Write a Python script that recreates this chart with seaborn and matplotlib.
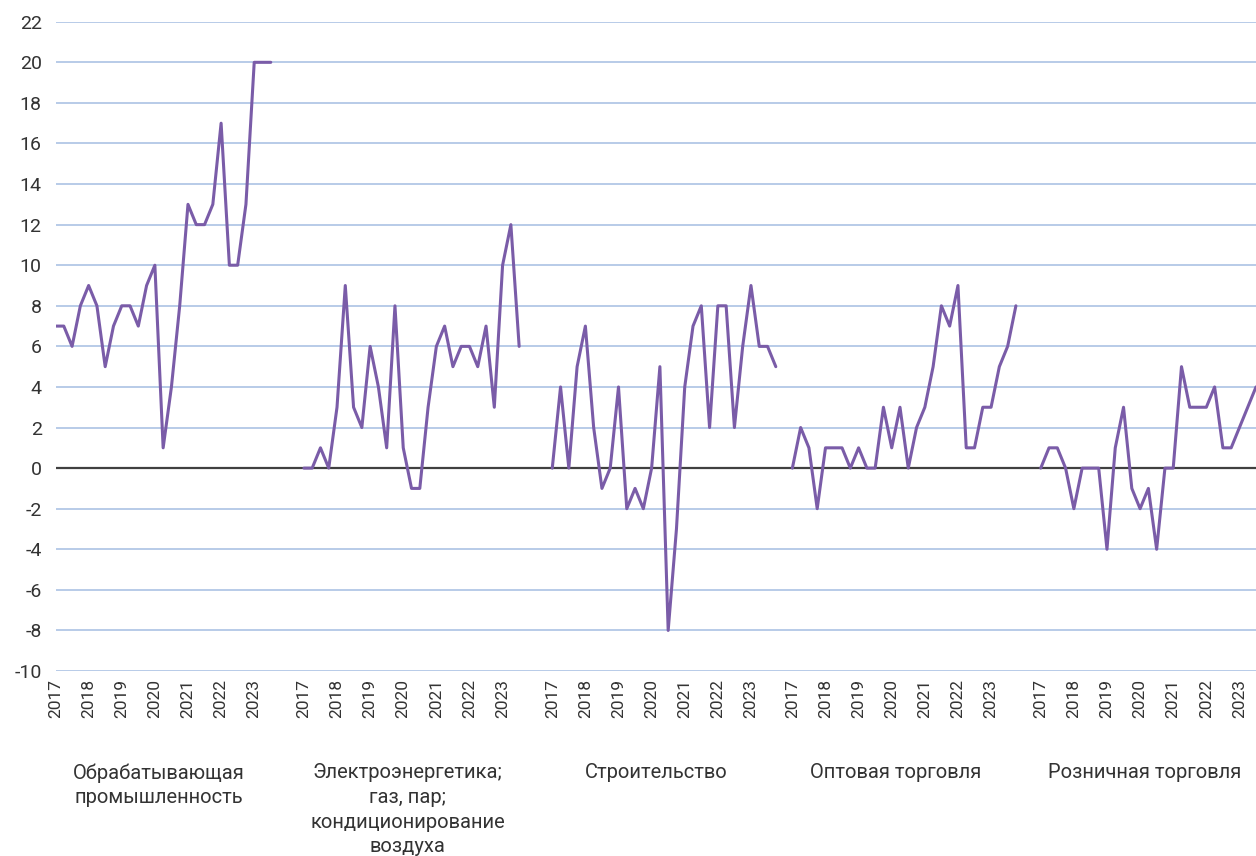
import numpy as np
import pandas as pd
import seaborn as sns
import matplotlib.pyplot as plt
import matplotlib.transforms as mtransforms

# sectors and quarterly values (2017Q1 onward)
sectors = [
    "Обрабатывающая\nпромышленность",
    "Электроэнергетика;\nгаз, пар;\nкондиционирование\nвоздуха",
    "Строительство",
    "Оптовая торговля",
    "Розничная торговля",
]
manufacturing = [7, 7, 6, 8, 9, 8, 5, 7, 8, 8, 7, 9, 10, 1, 4, 8, 13, 12, 12, 13, 17, 10, 10, 13, 20, 20, 20]
energy = [0, 0, 1, 0, 3, 9, 3, 2, 6, 4, 1, 8, 1, -1, -1, 3, 6, 7, 5, 6, 6, 5, 7, 3, 10, 12, 6]
construction = [0, 4, 0, 5, 7, 2, -1, 0, 4, -2, -1, -2, 0, 5, -8, -3, 4, 7, 8, 2, 8, 8, 2, 6, 9, 6, 6, 5]
wholesale = [0, 2, 1, -2, 1, 1, 1, 0, 1, 0, 0, 3, 1, 3, 0, 2, 3, 5, 8, 7, 9, 1, 1, 3, 3, 5, 6, 8]
retail = [0, 1, 1, 0, -2, 0, 0, 0, -4, 1, 3, -1, -2, -1, -4, 0, 0, 5, 3, 3, 3, 4, 1, 1, 2, 3, 4]
years = [2017, 2018, 2019, 2020, 2021, 2022, 2023]

series = [manufacturing, energy, construction, wholesale, retail]
# first category slot of each sector block on the shared axis
block_start = [0, 30, 60, 89, 119]

rows = []
for name, vals, start in zip(sectors, series, block_start):
    for i, v in enumerate(vals):
        rows.append({"sector": name, "pos": start + i, "value": v})
df = pd.DataFrame(rows)

sns.set_theme(style="white")
plt.rcParams["font.family"] = ["Roboto", "DejaVu Sans"]

fig = plt.figure(figsize=(12.56, 8.56), dpi=100)
ax = fig.add_axes([0.0442, 0.2161, 0.9558, 0.7585])

for y in range(-10, 23, 2):
    if y != 0:
        ax.axhline(y, color="#b8cbe8", lw=1.4, zorder=0)
ax.axhline(0, color="#404040", lw=1.6, zorder=1)

sns.lineplot(data=df, x="pos", y="value", units="sector", estimator=None,
             color="#7a5ca8", lw=2.2, ax=ax, zorder=3)

ax.set_xlim(0, 145)
ax.set_ylim(-10, 22)
ax.set_yticks(range(-10, 23, 2))
ax.set_yticklabels([str(t) for t in range(-10, 23, 2)], fontsize=14, color="#333333")

ticks, labels = [], []
for start in block_start:
    for k, yr in enumerate(years):
        ticks.append(start + 4 * k)
        labels.append(str(yr))
ax.set_xticks(ticks)
ax.set_xticklabels(labels, rotation=90, fontsize=12.5, color="#333333")
ax.tick_params(axis="x", length=0, pad=6)
ax.tick_params(axis="y", length=0, pad=10)
ax.set_xlabel("")
ax.set_ylabel("")
for s in ax.spines.values():
    s.set_visible(False)

trans = mtransforms.blended_transform_factory(ax.transData, ax.transAxes)
for name, start in zip(sectors, block_start):
    ax.text(start + 12.5, -0.142, name, transform=trans, ha="center", va="top",
            fontsize=14.5, color="#333333", linespacing=1.38, clip_on=False)

fig.savefig("out.png", dpi=100)
